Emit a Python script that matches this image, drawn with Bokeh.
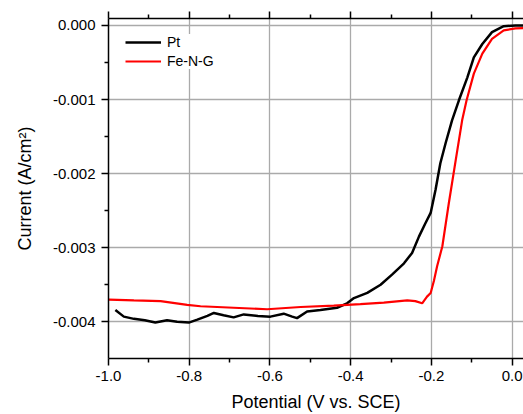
from bokeh.plotting import figure
from bokeh.models import FixedTicker, LinearAxis, Legend, LegendItem, NumeralTickFormatter, Range1d
from bokeh.embed import file_html
from bokeh.resources import INLINE

# Pt (black)
pt_x = [-0.983, -0.962, -0.937, -0.91, -0.884, -0.855, -0.83, -0.801, -0.78, -0.755, -0.739,
        -0.715, -0.690, -0.665, -0.63, -0.599, -0.566, -0.545, -0.533, -0.508, -0.475, -0.434,
        -0.409, -0.392, -0.359, -0.326, -0.297, -0.268, -0.248, -0.231, -0.215, -0.202, -0.190,
        -0.178, -0.165, -0.149, -0.132, -0.111, -0.095, -0.074, -0.050, -0.021, 0.008, 0.028]
pt_y = [-0.00384, -0.00393, -0.00396, -0.00398, -0.00401, -0.00398, -0.00400, -0.00401, -0.00397,
        -0.00392, -0.00388, -0.00391, -0.00394, -0.00390, -0.00392, -0.00393, -0.00389, -0.00393,
        -0.00395, -0.00386, -0.00384, -0.00381, -0.00375, -0.00368, -0.00361, -0.00350, -0.00336,
        -0.00321, -0.00307, -0.00285, -0.00267, -0.00253, -0.00222, -0.00186, -0.00159, -0.00128,
        -0.00101, -0.00070, -0.00043, -0.00025, -0.00009, -0.00001, 0.0, 0.0]

# Fe-N-G (red)
fe_x = [-0.999, -0.937, -0.871, -0.805, -0.772, -0.690, -0.607, -0.524, -0.442, -0.376, -0.318,
        -0.260, -0.240, -0.223, -0.211, -0.202, -0.194, -0.186, -0.173, -0.157, -0.140, -0.124,
        -0.113, -0.095, -0.074, -0.050, -0.021, 0.008, 0.028]
fe_y = [-0.00370, -0.00371, -0.00372, -0.00377, -0.00379, -0.00381, -0.00383, -0.00380, -0.00378,
        -0.00376, -0.00374, -0.00371, -0.00372, -0.00375, -0.00366, -0.00361, -0.00345, -0.00325,
        -0.00298, -0.00240, -0.00182, -0.00128, -0.00101, -0.00065, -0.00038, -0.00018, -0.000067,
        -0.00004, -0.000036]

x_ticks = [-1.0, -0.8, -0.6, -0.4, -0.2, 0.0]
x_minor = [-0.9, -0.7, -0.5, -0.3, -0.1]
y_ticks = [0.0, -0.001, -0.002, -0.003, -0.004]
y_minor = [-0.0005, -0.0015, -0.0025, -0.0035, -0.0045]

FONT = "Liberation Sans"

p = figure(width=523, height=414, output_backend="svg", toolbar_location=None,
           x_range=Range1d(-1.0, 0.028), y_range=Range1d(-0.004495, 0.0000942),
           min_border_left=108, min_border_right=0, min_border_top=18, min_border_bottom=55)
p.outline_line_color = None
p.background_fill_color = "white"

xt = FixedTicker(ticks=x_ticks, minor_ticks=x_minor)
yt = FixedTicker(ticks=y_ticks, minor_ticks=y_minor)

for ax in (p.xaxis[0], p.yaxis[0]):
    ax.axis_line_width = 1.5
    ax.axis_line_color = "black"
    ax.major_tick_line_width = 1.5
    ax.minor_tick_line_width = 1.5
    ax.major_tick_in = 0
    ax.major_tick_out = 7
    ax.minor_tick_in = 0
    ax.minor_tick_out = 4
    ax.major_label_text_font = FONT
    ax.major_label_text_font_size = "15px"
    ax.major_label_text_color = "black"
    ax.axis_label_text_font = FONT
    ax.axis_label_text_font_size = "18px"
    ax.axis_label_text_font_style = "normal"
    ax.axis_label_text_color = "black"

p.xaxis[0].ticker = xt
p.yaxis[0].ticker = yt
p.xaxis[0].formatter = NumeralTickFormatter(format="0.0")
p.yaxis[0].formatter = NumeralTickFormatter(format="0.000")
p.xaxis[0].axis_label = "Potential (V vs. SCE)"
p.yaxis[0].axis_label = "Current (A/cm²)"
p.xaxis[0].major_label_standoff = 5
p.yaxis[0].major_label_standoff = 6
p.xaxis[0].axis_label_standoff = 8
p.yaxis[0].axis_label_standoff = 15

top = LinearAxis(ticker=xt, axis_line_width=1.5, axis_line_color="black",
                 major_tick_line_width=1.5, minor_tick_line_width=1.5,
                 major_tick_in=0, major_tick_out=7, minor_tick_in=0, minor_tick_out=4,
                 major_label_text_font_size="2px", major_label_text_color=None,
                 major_label_standoff=0)
p.add_layout(top, "above")

p.xgrid.ticker = xt
p.ygrid.ticker = yt
p.xgrid.grid_line_color = "#aaaaaa"
p.ygrid.grid_line_color = "#aaaaaa"
p.xgrid.grid_line_width = 1.3
p.ygrid.grid_line_width = 1.3

r_pt = p.line(pt_x, pt_y, line_color="black", line_width=2.5)
r_fe = p.line(fe_x, fe_y, line_color="#ff0000", line_width=2.2)

legend = Legend(items=[LegendItem(label="Pt", renderers=[r_pt]),
                       LegendItem(label="Fe-N-G", renderers=[r_fe])],
                location=(17, 289), glyph_width=36, glyph_height=16, label_height=16,
                spacing=3, padding=6, margin=0, label_standoff=6,
                label_text_font=FONT, label_text_font_size="14px", label_text_color="black",
                border_line_color=None, background_fill_color="white", background_fill_alpha=1.0)
p.add_layout(legend, "center")

open("out.html", "w").write(file_html(p, INLINE))
